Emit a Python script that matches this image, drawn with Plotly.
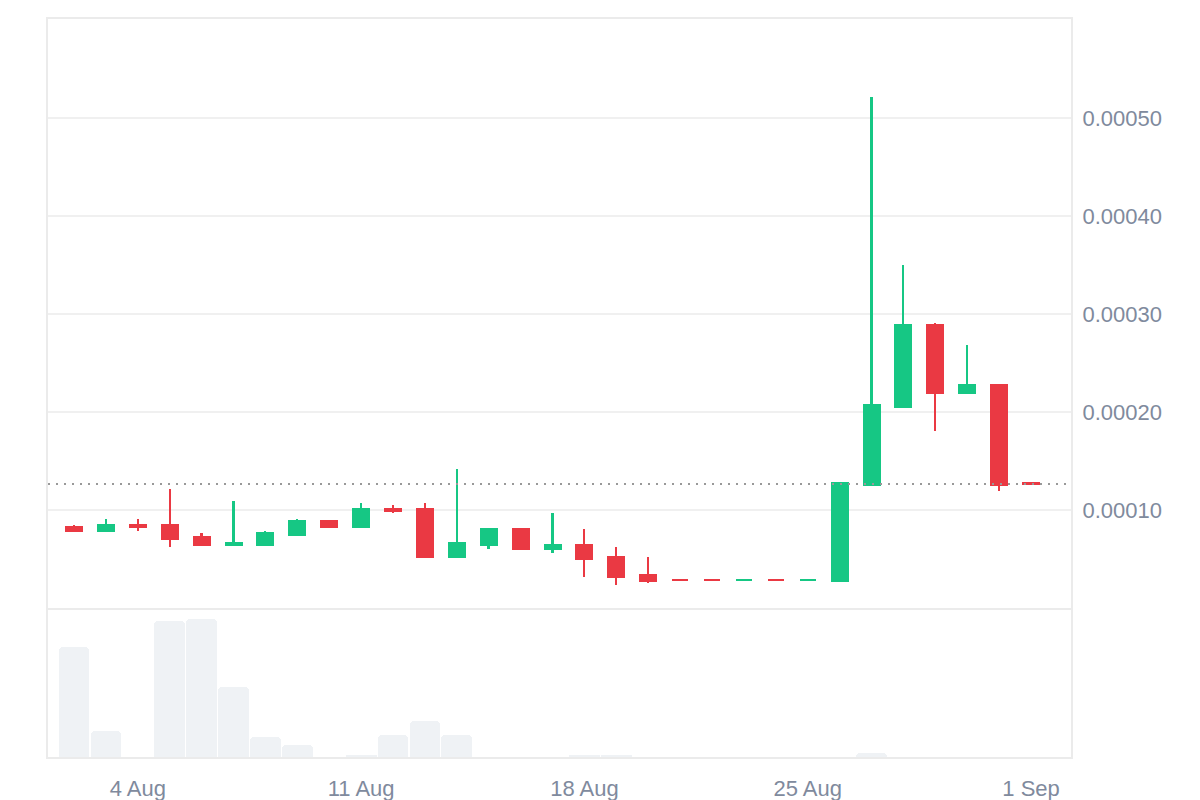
import plotly.graph_objects as go
from plotly.subplots import make_subplots
import pandas as pd

# ---------------- data ----------------
dates = pd.date_range("2024-08-02", "2024-09-01", freq="D")

opens = [0.0000823, 0.0000783, 0.0000844, 0.0000844, 0.0000721, 0.0000640, 0.0000640,
         0.0000742, 0.0000885, 0.0000823, 0.0001007, 0.0001007, 0.0000517, 0.0000640,
         0.0000803, 0.0000599, 0.0000640, 0.0000517, 0.0000334, 0.0000284, 0.0000284,
         0.0000282, 0.0000284, 0.0000282, 0.0000272, 0.0001252, 0.0002048, 0.0002885,
         0.0002191, 0.0002272, 0.0001273]
highs = [0.0000844, 0.0000905, 0.0000905, 0.0001211, 0.0000762, 0.0001089, 0.0000783,
         0.0000905, 0.0000885, 0.0001068, 0.0001048, 0.0001068, 0.0001416, 0.0000803,
         0.0000803, 0.0000966, 0.0000803, 0.0000620, 0.0000517, 0.0000284, 0.0000284,
         0.0000284, 0.0000284, 0.0000284, 0.0001273, 0.0005210, 0.0003497, 0.0002905,
         0.0002680, 0.0002272, 0.0001273]
lows = [0.0000783, 0.0000783, 0.0000783, 0.0000620, 0.0000640, 0.0000640, 0.0000640,
        0.0000742, 0.0000823, 0.0000823, 0.0000967, 0.0000517, 0.0000517, 0.0000599,
        0.0000599, 0.0000558, 0.0000313, 0.0000232, 0.0000252, 0.0000282, 0.0000282,
        0.0000282, 0.0000282, 0.0000282, 0.0000272, 0.0001252, 0.0002048, 0.0001803,
        0.0002191, 0.0001191, 0.0001265]
closes = [0.0000783, 0.0000844, 0.0000823, 0.0000701, 0.0000640, 0.0000660, 0.0000762,
          0.0000885, 0.0000823, 0.0001007, 0.0000987, 0.0000517, 0.0000660, 0.0000803,
          0.0000599, 0.0000640, 0.0000497, 0.0000313, 0.0000272, 0.0000282, 0.0000282,
          0.0000284, 0.0000282, 0.0000284, 0.0001273, 0.0002068, 0.0002885, 0.0002191,
          0.0002272, 0.0001252, 0.0001265]
volumes = [110, 26, 0, 136, 138, 70, 20, 12, 0, 2, 22, 36, 22, 0, 0, 0, 2, 2, 0, 0,
           0, 0, 0, 0, 0, 4, 0, 0, 0, 0, 0]

y_ticks = [0.0001, 0.0002, 0.0003, 0.0004, 0.0005]
x_ticks = ["2024-08-04", "2024-08-11", "2024-08-18", "2024-08-25", "2024-09-01"]
x_tick_labels = ["4 Aug", "11 Aug", "18 Aug", "25 Aug", "1 Sep"]

# ---------------- style ----------------
GREEN = "#16c784"
RED = "#ea3943"
TEXT = "#808a9d"
FRAME = "#ebebeb"
GRID = "#f0f0f0"
DAY_MS = 86400000
FONT = "Liberation Sans, Arial, sans-serif"
FS = 22

colors = [GREEN if c >= o else RED for o, c in zip(opens, closes)]
body_base = [min(o, c) for o, c in zip(opens, closes)]
body_len = [abs(c - o) for o, c in zip(opens, closes)]
wick_len = [h - l for h, l in zip(highs, lows)]
last_price = closes[-1]

fig = make_subplots(rows=2, cols=1, shared_xaxes=True, vertical_spacing=0,
                    row_heights=[0.798, 0.202])

# wicks
fig.add_trace(go.Bar(x=dates, y=wick_len, base=lows, width=DAY_MS * 2 / 32,
                     marker=dict(color=colors, line=dict(width=0)),
                     hoverinfo="skip", showlegend=False), row=1, col=1)
# bodies
fig.add_trace(go.Bar(x=dates, y=body_len, base=body_base, width=DAY_MS * 16 / 32,
                     marker=dict(color=colors, line=dict(color=colors, width=2)),
                     showlegend=False,
                     customdata=list(zip(opens, highs, lows, closes)),
                     hovertemplate="O %{customdata[0]:.7f}<br>H %{customdata[1]:.7f}"
                                   "<br>L %{customdata[2]:.7f}<br>C %{customdata[3]:.7f}<extra></extra>"),
              row=1, col=1)
# volume
fig.add_trace(go.Bar(x=dates, y=volumes, width=DAY_MS * 0.965,
                     marker=dict(color="#eff2f5", line=dict(width=0), cornerradius=4),
                     showlegend=False, hoverinfo="skip"), row=2, col=1)

# last price dotted line
fig.add_shape(type="line", xref="x domain", yref="y", x0=0, x1=1,
              y0=last_price, y1=last_price,
              line=dict(color="#999999", width=2, dash="2px,6px"))

x_range = [pd.Timestamp("2024-08-02") - pd.Timedelta(days=0.817),
           pd.Timestamp("2024-09-01") + pd.Timedelta(days=1.253)]

fig.update_layout(
    width=1200, height=800,
    margin=dict(l=48, r=129, t=19, b=43, autoexpand=False),
    paper_bgcolor="white", plot_bgcolor="white",
    barmode="overlay", bargap=0,
    font=dict(family=FONT, size=FS, color=TEXT),
    hovermode="x",
)

fig.update_xaxes(range=x_range, showgrid=False, zeroline=False, automargin=False,
                 showline=True, mirror=True, linecolor=FRAME, linewidth=2)
fig.update_xaxes(tickvals=x_ticks, ticktext=x_tick_labels, ticks="", mirror=False,
                 ticklabelstandoff=11, tickfont=dict(size=FS, color=TEXT), row=2, col=1)

fig.update_yaxes(row=1, col=1, side="right", range=[0, 0.000601], automargin=False,
                 tickvals=y_ticks, ticktext=[f"{v:.5f}" for v in y_ticks],
                 showgrid=True, gridcolor=GRID, gridwidth=2, zeroline=False,
                 showline=True, mirror=True, linecolor=FRAME, linewidth=2,
                 ticks="", ticklabelstandoff=5, tickfont=dict(size=FS, color=TEXT))
fig.update_yaxes(row=2, col=1, range=[0, 149], showticklabels=False, showgrid=False,
                 automargin=False,
                 zeroline=False, showline=True, mirror=True, linecolor=FRAME, linewidth=2)

fig.write_html("out.html")
